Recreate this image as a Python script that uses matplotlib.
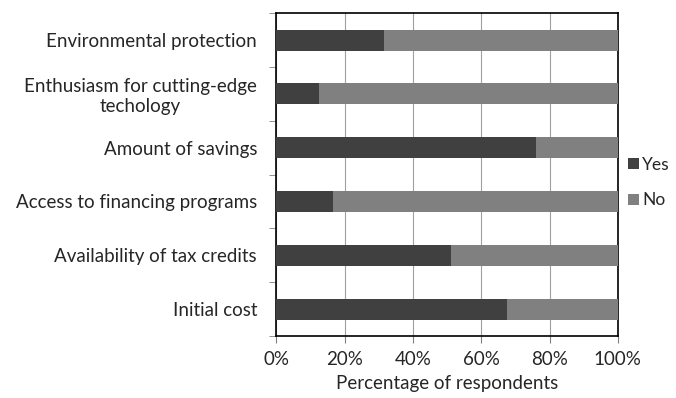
import numpy as np
import matplotlib
matplotlib.use('Agg')
import matplotlib.pyplot as plt
from matplotlib.ticker import FixedLocator, PercentFormatter

plt.rcParams['font.family'] = ['Lato', 'DejaVu Sans']

categories = ['Environmental protection',
              'Enthusiasm for cutting-edge\ntechology',
              'Amount of savings',
              'Access to financing programs',
              'Availability of tax credits',
              'Initial cost']
yes = [31.5, 12.5, 76, 16.7, 51, 67.5]
no = [100 - v for v in yes]

fs = 13.5
txt = '#262626'

fig = plt.figure(figsize=(6.76, 3.98), dpi=100)
ax = fig.add_axes([0.409, 0.156, 0.505, 0.811])

n = len(categories)
pos = np.arange(n)[::-1]  # first category on top
ax.barh(pos, yes, height=0.39, color='#404040', label='Yes', zorder=3)
ax.barh(pos, no, left=yes, height=0.39, color='#808080', label='No', zorder=3)

ax.set_xlim(0, 100)
ax.set_ylim(-0.5, n - 0.5)
ax.set_xticks(np.arange(0, 101, 20))
ax.xaxis.set_major_formatter(PercentFormatter(decimals=0))
ax.grid(axis='x', color='#a0a0a0', linewidth=0.8, zorder=0)

ax.set_yticks(pos)
ax.set_yticklabels(categories, multialignment='center')
ax.tick_params(axis='y', which='major', length=0, pad=14)
ax.yaxis.set_minor_locator(FixedLocator(np.arange(-0.5, n, 1)))
ax.tick_params(axis='y', which='minor', length=5, color='#808080')
ax.tick_params(axis='x', length=5, color='#808080', pad=6)
ax.tick_params(labelsize=fs, labelcolor=txt)

for s in ax.spines.values():
    s.set_color('#000000')
    s.set_linewidth(1.2)

ax.set_xlabel('Percentage of respondents', fontsize=fs, color=txt, labelpad=5)

ax.legend(loc='center left', bbox_to_anchor=(1.0, 0.475), frameon=False,
          fontsize=12.5, handlelength=0.6, handleheight=0.6, handletextpad=0.2,
          labelspacing=1.1, labelcolor=txt, borderpad=0, borderaxespad=0.6)

fig.savefig('out.png', dpi=100)
